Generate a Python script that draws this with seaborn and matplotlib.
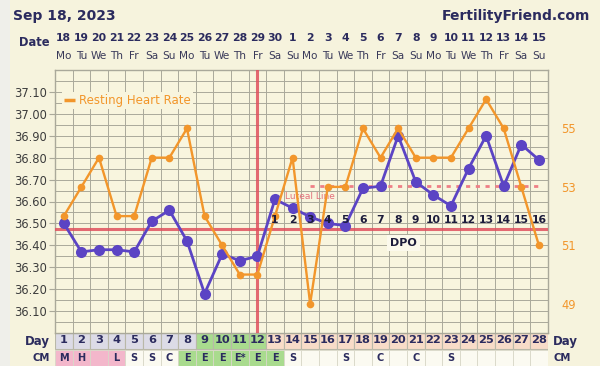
import matplotlib
matplotlib.use("Agg")
import matplotlib.pyplot as plt
import matplotlib.transforms as mtransforms
from matplotlib.patches import Rectangle
from matplotlib.lines import Line2D
import numpy as np
import pandas as pd
import seaborn as sns

# ---------------- data ----------------
cycle_days = list(range(1, 29))
dates = [18, 19, 20, 21, 22, 23, 24, 25, 26, 27, 28, 29, 30, 1, 2, 3, 4, 5, 6, 7, 8, 9, 10, 11, 12, 13, 14, 15]
weekdays = ["Mo", "Tu", "We", "Th", "Fr", "Sa", "Su"] * 4
bbt = [36.50, 36.37, 36.38, 36.38, 36.37, 36.51, 36.56, 36.42, 36.18, 36.36, 36.33, 36.35,
       36.61, 36.57, 36.53, 36.50, 36.49, 36.66, 36.67, 36.90, 36.69, 36.63, 36.58, 36.75,
       36.90, 36.67, 36.86, 36.79]
rhr = [52, 53, 54, 52, 52, 54, 54, 55, 52, 51, 50, 50, 52, 54, 49, 53, 53, 55, 54, 55,
       54, 54, 54, 55, 56, 55, 53, 51]
cm = ["M", "H", "", "L", "S", "S", "C", "E", "E", "E", "E*", "E", "E", "S", "", "", "S",
      "", "C", "", "C", "", "S", "", "", "", "", ""]
dpo_days = list(range(13, 29))
dpo_labels = [str(i) for i in range(1, 17)]
coverline = 36.475
luteal_line = 36.67
ovulation_day = 12
temp_ticks = [36.10, 36.20, 36.30, 36.40, 36.50, 36.60, 36.70, 36.80, 36.90, 37.00, 37.10]
hr_ticks = [49, 51, 53, 55]

# ---------------- style ----------------
sns.set_style("white")
plt.rcParams["font.family"] = ["DejaVu Sans"]

NAVY = "#2b2b5e"
ORANGE = "#f2962b"
PURPLE = "#5b44c4"
RED = "#e0505e"
GRID = "#aaa99a"
CREAM = "#f8f5de"

fig = plt.figure(figsize=(6.0, 3.66), dpi=100)
fig.patch.set_facecolor("#f6f3dd")
fig.patches.append(Rectangle((0, 0), 10 / 600, 1, transform=fig.transFigure,
                             facecolor="#efefea", edgecolor="none", zorder=0))

L = 55 / 600
W = 492.7 / 600
ax = fig.add_axes([L, 33 / 366, W, 263 / 366])
ax.set_facecolor(CREAM)
ax.set_xlim(0.5, 28.5)
ax.set_ylim(36.0, 37.2)

# grid
ax.set_xticks(np.arange(0.5, 28.6, 1))
ax.set_xticklabels([])
ax.set_yticks(temp_ticks)
ax.set_yticklabels([f"{t:.2f}" for t in temp_ticks])
ax.set_yticks(np.arange(36.05, 37.2, 0.1), minor=True)
ax.grid(True, which="both", color=GRID, lw=0.7)
ax.tick_params(axis="x", length=0)
ax.tick_params(axis="y", which="major", length=4, color=GRID, labelsize=8.3,
               labelcolor="#3c3c3c", pad=2)
ax.tick_params(axis="y", which="minor", length=0)
for s in ax.spines.values():
    s.set_color(GRID)
    s.set_linewidth(1.0)

# secondary axis for resting heart rate
ax2 = ax.twinx()
ax2.set_ylim(48, 57)
ax2.set_yticks(hr_ticks)
ax2.tick_params(axis="y", length=0, labelsize=8.3, labelcolor=ORANGE, pad=10)
for s in ax2.spines.values():
    s.set_visible(False)
ax2.grid(False)

# reference lines
ax.axhline(coverline, color=RED, lw=2.2, alpha=0.85, zorder=3)
ax.axvline(ovulation_day, color=RED, lw=2.2, alpha=0.85, zorder=3)
ax.plot([15, 28], [luteal_line, luteal_line], color="#ee7f86", lw=2.0,
        ls=(0, (1.5, 2.0)), zorder=3)
ax.text(15.0, 36.625, "Luteal Line", color="#e4707c", fontsize=6.5, ha="center",
        va="center", zorder=3)

df = pd.DataFrame({"day": cycle_days, "bbt": bbt, "rhr": rhr})
sns.lineplot(data=df, x="day", y="rhr", ax=ax2, color=ORANGE, lw=1.7, marker="o",
             markersize=5.5, markeredgewidth=0, zorder=4, legend=False)
sns.lineplot(data=df, x="day", y="bbt", ax=ax, color=PURPLE, lw=2.0, marker="o",
             markersize=8, markeredgewidth=0, zorder=5, legend=False)
ax2.set_xlim(0.5, 28.5)
ax.set_xlabel("")
ax.set_ylabel("")
ax2.set_xlabel("")
ax2.set_ylabel("")
ax.set_zorder(2)
ax2.set_zorder(3)
ax2.patch.set_visible(False)

leg = ax2.legend(handles=[Line2D([], [], color=ORANGE, lw=2.5, solid_capstyle="butt")],
                 labels=["Resting Heart Rate"],
                 loc="upper left", bbox_to_anchor=(0.002, 0.94), fontsize=8.5,
                 handlelength=0.9, handletextpad=0.35, borderpad=0.2, frameon=True,
                 fancybox=False, facecolor=CREAM, edgecolor="none", framealpha=1.0)
for t in leg.get_texts():
    t.set_color(ORANGE)

# DPO numbers (drawn on top layer)
for d, lab in zip(dpo_days, dpo_labels):
    ax2.text(d, 36.515, lab, transform=ax.transData, color="#1c1c3c", fontsize=7.8,
             fontweight="bold", ha="center", va="center", zorder=6)
ax2.text(20.3, 36.41, "DPO", transform=ax.transData, color="#1c1c3c", fontsize=8,
         fontweight="bold", ha="center", va="center", zorder=6,
         bbox=dict(boxstyle="square,pad=0.3", facecolor="#fbf9ec", edgecolor="none"))

# header: title, dates, weekdays
fig.text(13 / 600, 1 - 16 / 366, "Sep 18, 2023", color=NAVY, fontsize=10,
         fontweight="bold", ha="left", va="center")
fig.text(590 / 600, 1 - 16 / 366, "FertilityFriend.com", color=NAVY, fontsize=10,
         fontweight="bold", ha="right", va="center")
trans = mtransforms.blended_transform_factory(ax.transData, fig.transFigure)
for d, dt, wd in zip(cycle_days, dates, weekdays):
    ax.text(d, 1 - 38 / 366, str(dt), transform=trans, color=NAVY, fontsize=7.8,
            fontweight="bold", ha="center", va="center")
    ax.text(d, 1 - 56 / 366, wd, transform=trans, color="#3a3a5a", fontsize=7.6,
            ha="center", va="center")
fig.text(50 / 600, 1 - 43 / 366, "Date", color=NAVY, fontsize=8.3,
         fontweight="bold", ha="right", va="center")

# bottom rows: Day and CM
axd = fig.add_axes([L, 0, W, 33 / 366])
axd.set_xlim(0.5, 28.5)
axd.set_ylim(0, 2)
axd.axis("off")
day_colors = ["#dcdbe6"] * 8 + ["#a9db8e"] * 4 + ["#f8dcc8"] * 16
cm_colors = ["#f3b7cb"] * 4 + ["#fbfaf1"] * 3 + ["#a9db8e"] * 6 + ["#fbfaf1"] * 15
axd.bar(cycle_days, 1.0, bottom=1.03, width=1.0, color=day_colors, edgecolor="#b9b8a8",
        linewidth=0.8)
axd.bar(cycle_days, 1.0, bottom=0.0, width=1.0, color=cm_colors, edgecolor="#d8d7c8",
        linewidth=0.6)
for d, c in zip(cycle_days, cm):
    axd.text(d, 1.55, str(d), color=NAVY, fontsize=8.2, fontweight="bold",
             ha="center", va="center")
    if c:
        axd.text(d, 0.48, c, color=NAVY, fontsize=7, fontweight="bold",
                 ha="center", va="center")
fig.text(50 / 600, 1 - 341 / 366, "Day", color=NAVY, fontsize=8.5, fontweight="bold",
         ha="right", va="center")
fig.text(50 / 600, 1 - 358 / 366, "CM", color=NAVY, fontsize=7.3, fontweight="bold",
         ha="right", va="center")
fig.text(553 / 600, 1 - 341 / 366, "Day", color=NAVY, fontsize=8.5, fontweight="bold",
         ha="left", va="center")
fig.text(553 / 600, 1 - 358 / 366, "CM", color=NAVY, fontsize=7.3, fontweight="bold",
         ha="left", va="center")

fig.savefig("out.png", dpi=100, facecolor=fig.get_facecolor())
